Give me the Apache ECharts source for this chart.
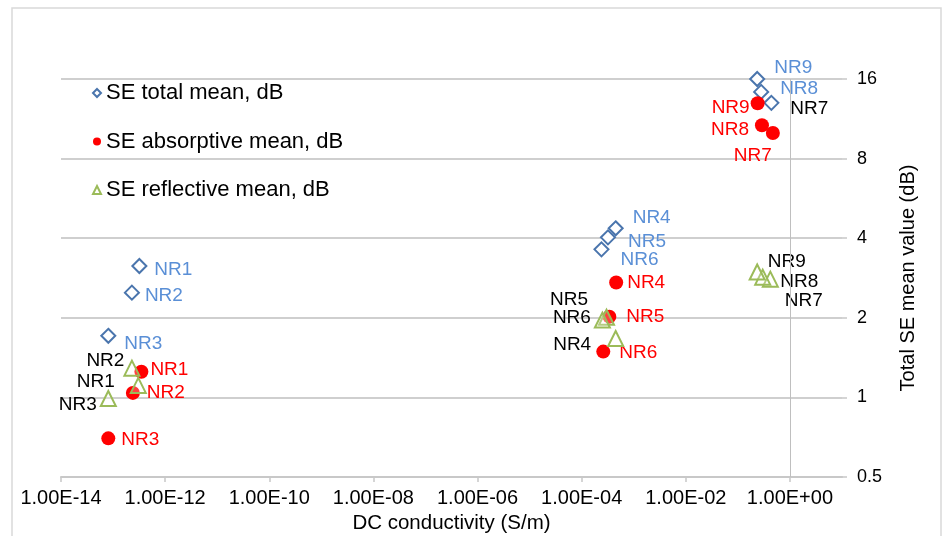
<!DOCTYPE html>
<html>
<head>
<meta charset="utf-8">
<script src="https://cdn.jsdelivr.net/npm/echarts@6/dist/echarts.min.js"></script>
<style>
html,body{margin:0;padding:0;background:#fff;}
#chart{width:944px;height:536px;}
</style>
</head>
<body>
<div id="chart"></div>
<script>
// ---- data ----
const samples = ['NR1','NR2','NR3','NR4','NR5','NR6','NR7','NR8','NR9'];
const seriesNames = ['SE total mean, dB','SE absorptive mean, dB','SE reflective mean, dB'];
const totalX = [3.2e-13, 2.3e-13, 8.1e-14, 4.5e-4, 3.2e-4, 2.4e-4, 0.44, 0.28, 0.235];
const totalY = [3.14, 2.49, 1.71, 4.36, 4.03, 3.63, 13.0, 14.3, 16.0];
const absX = [3.5e-13, 2.4e-13, 8.1e-14, 4.6e-4, 3.4e-4, 2.6e-4, 0.47, 0.29, 0.24];
const absY = [1.25, 1.04, 0.70, 2.72, 2.02, 1.49, 10.0, 10.7, 12.95];
const reflX = [3.05e-13, 2.3e-13, 8.1e-14, 4.5e-4, 3.0e-4, 2.5e-4, 0.42, 0.30, 0.235];
const reflY = [1.11, 1.29, 0.99, 1.67, 2.01, 1.96, 2.80, 2.85, 2.98];
const xTickValues = [1e-14, 1e-12, 1e-10, 1e-8, 1e-6, 1e-4, 1e-2, 1];
const xTickLabels = ['1.00E-14','1.00E-12','1.00E-10','1.00E-08','1.00E-06','1.00E-04','1.00E-02','1.00E+00'];
const yTickValues = [0.5, 1, 2, 4, 8, 16];
const yTickLabels = ['0.5','1','2','4','8','16'];
const xAxisTitle = 'DC conductivity (S/m)';
const yAxisTitle = 'Total SE mean value (dB)';

// ---- label placement (style only) ----
const totalLbl = [['right',2,4],['right',0,3],['right',3,8],['right',4,-11],['right',7,4],['right',6,10],['right',6,6,'#000'],['right',6,-3],['right',4,-11]];
const absLbl = [['right',-3,-2],['right',2,0],['right',1,1],['right',-1,0],['right',5,0],['right',4,1],['left',11,23],['left',-1,5],['left',4,4]];
const reflLbl = [['left',-10,-4],['left',6,-7],['left',2,6],['left',-11,6],['left',-5,-17],['left',2,-2],['right',1,22],['right',4,5],['right',-3,-10]];

const FONT = '"Liberation Sans", Arial, sans-serif';

function build(xs, ys, lbl, color) {
  return samples.map((n, i) => ({
    name: n,
    value: [xs[i], ys[i]],
    label: {
      position: lbl[i][0],
      offset: [lbl[i][1], lbl[i][2]],
      color: lbl[i][3] || color
    }
  }));
}

function fmtX(v) {
  for (let i = 0; i < xTickValues.length; i++) {
    if (Math.abs(Math.log10(v) - Math.log10(xTickValues[i])) < 1e-6) return xTickLabels[i];
  }
  return '';
}
function fmtY(v) {
  for (let i = 0; i < yTickValues.length; i++) {
    if (Math.abs(v - yTickValues[i]) < 1e-6 * yTickValues[i]) return yTickLabels[i];
  }
  return '';
}

const chart = echarts.init(document.getElementById('chart'), null, {renderer: 'canvas'});
chart.setOption({
  animation: false,
  backgroundColor: '#fff',
  textStyle: {fontFamily: FONT},
  graphic: [{
    type: 'rect', silent: true, z: -10,
    shape: {x: 12, y: 8, width: 929, height: 540},
    style: {fill: 'none', stroke: '#d9d9d9', lineWidth: 1.5}
  }],
  grid: {left: 61, right: 102, top: 79, bottom: 59, containLabel: false, outerBoundsMode: 'none'},
  legend: {
    orient: 'vertical', left: 87, top: 77,
    itemGap: 26.5, itemWidth: 8, itemHeight: 8,
    textStyle: {fontSize: 22, lineHeight: 22, color: '#000', fontFamily: FONT},
    data: seriesNames
  },
  xAxis: {
    type: 'log', logBase: 10, min: 1e-14, max: 10,
    name: xAxisTitle, nameLocation: 'middle', nameGap: 33,
    nameTextStyle: {fontSize: 20.5, color: '#000', fontFamily: FONT},
    axisLine: {show: true, lineStyle: {color: '#c8c8c8', width: 2}},
    axisTick: {show: true, length: 5, customValues: xTickValues, lineStyle: {color: '#c8c8c8', width: 1.5}},
    axisLabel: {show: true, margin: 11, fontSize: 20, color: '#000', fontFamily: FONT, customValues: xTickValues, formatter: fmtX},
    splitLine: {show: false},
    minorTick: {show: false}
  },
  yAxis: {
    type: 'log', logBase: 2, min: 0.5, max: 16, position: 'right',
    name: yAxisTitle, nameLocation: 'middle', nameGap: 56,
    nameTextStyle: {fontSize: 20, color: '#000', fontFamily: FONT},
    axisLine: {show: false},
    axisTick: {show: true, length: 5, lineStyle: {color: '#c8c8c8', width: 1.5}},
    axisLabel: {show: true, margin: 15, fontSize: 18, color: '#000', fontFamily: FONT, formatter: fmtY},
    splitLine: {show: true, lineStyle: {color: '#cfcfcf', width: 2}}
  },
  series: [
    {
      name: seriesNames[0], type: 'scatter', clip: false, z: 2,
      symbol: 'diamond', symbolSize: 14,
      itemStyle: {color: '#ffffff', borderColor: '#4a75ad', borderWidth: 2, opacity: 1},
      label: {show: true, formatter: '{b}', fontSize: 19, fontFamily: FONT, distance: 5},
      data: build(totalX, totalY, totalLbl, '#5a8fd6'),
      markLine: {
        silent: true, symbol: ['none','none'], label: {show: false},
        lineStyle: {color: '#bfbfbf', width: 1, type: 'solid'},
        data: [{xAxis: 1}]
      }
    },
    {
      name: seriesNames[1], type: 'scatter', clip: false, z: 3,
      symbol: 'circle', symbolSize: 14,
      itemStyle: {color: '#ff0000', opacity: 1},
      label: {show: true, formatter: '{b}', fontSize: 19, fontFamily: FONT, distance: 5},
      data: build(absX, absY, absLbl, '#ff0000')
    },
    {
      name: seriesNames[2], type: 'scatter', clip: false, z: 4,
      symbol: 'triangle', symbolSize: 15,
      itemStyle: {color: 'rgba(255,255,255,0.25)', borderColor: '#9bbb59', borderWidth: 2, opacity: 1},
      label: {show: true, formatter: '{b}', fontSize: 19, fontFamily: FONT, distance: 5},
      data: build(reflX, reflY, reflLbl, '#000000')
    }
  ]
});
</script>
</body>
</html>
